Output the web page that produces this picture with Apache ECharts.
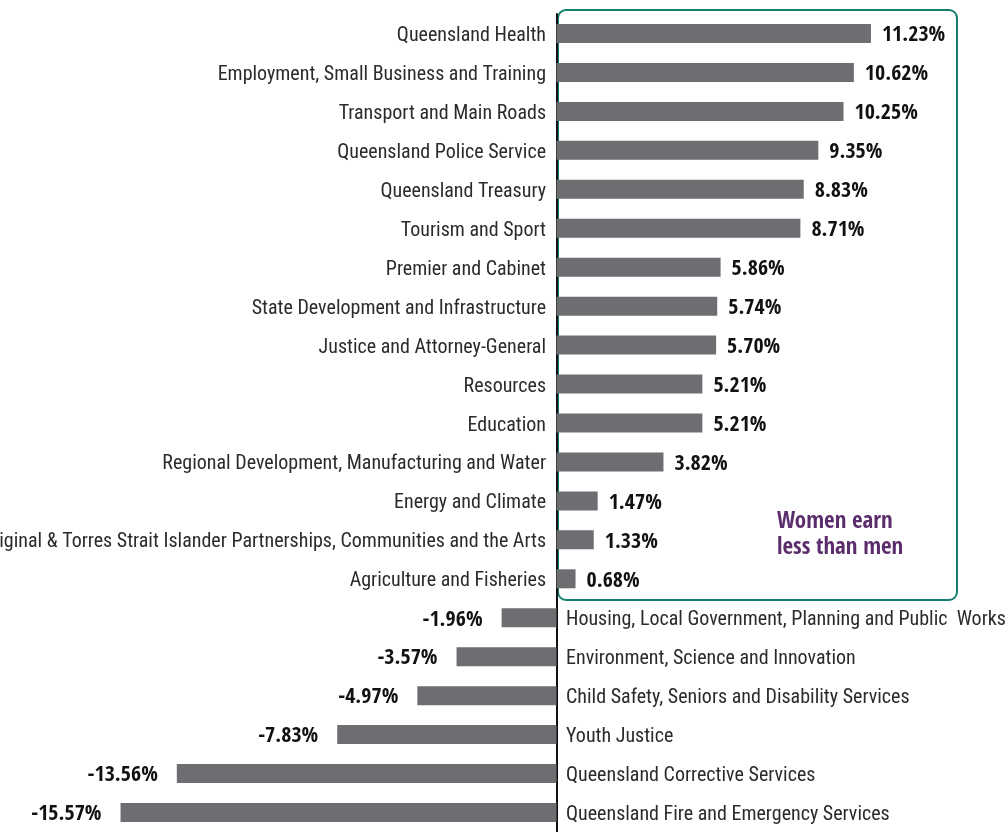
<!DOCTYPE html>
<html>
<head>
<meta charset="utf-8">
<script src="https://cdn.jsdelivr.net/npm/echarts@6/dist/echarts.min.js"></script>
<style>
  html, body { margin: 0; padding: 0; background: #fff; }
  #main { width: 1008px; height: 832px; }
</style>
</head>
<body>
<div id="main"></div>
<script>
// agencies, top to bottom
const agencies = [
  'Queensland Health',
  'Employment, Small Business and Training',
  'Transport and Main Roads',
  'Queensland Police Service',
  'Queensland Treasury',
  'Tourism and Sport',
  'Premier and Cabinet',
  'State Development and Infrastructure',
  'Justice and Attorney-General',
  'Resources',
  'Education',
  'Regional Development, Manufacturing and Water',
  'Energy and Climate',
  'Aboriginal & Torres Strait Islander Partnerships, Communities and the Arts',
  'Agriculture and Fisheries',
  'Housing, Local Government, Planning and Public  Works',
  'Environment, Science and Innovation',
  'Child Safety, Seniors and Disability Services',
  'Youth Justice',
  'Queensland Corrective Services',
  'Queensland Fire and Emergency Services'
];

// gender pay gap (%)
const payGap = [
  11.23, 10.62, 10.25, 9.35, 8.83, 8.71, 5.86, 5.74, 5.70, 5.21, 5.21,
  3.82, 1.47, 1.33, 0.68, -1.96, -3.57, -4.97, -7.83, -13.56, -15.57
];

const noteText = 'Women earn\nless than men';

const LABEL_FONT = '"Roboto Condensed", sans-serif';
const BOLD_FONT = '"Open Sans Condensed", "Roboto Condensed", sans-serif';

// agency names drawn a touch lower so they line up with the bars
const nameRich = {
  n: { fontFamily: LABEL_FONT, fontSize: 20, color: '#2b2b2b', padding: [5, 0, 0, 0] }
};

let chartDom = document.getElementById('main');
let myChart = echarts.init(chartDom);

const option = {
  animation: false,
  grid: {
    left: 0,
    right: 0,
    top: 14,
    bottom: 0,
    containLabel: false,
    outerBoundsMode: 'none'
  },
  xAxis: {
    type: 'value',
    min: -19.875,
    max: 16.125,
    show: false
  },
  yAxis: [
    {
      // names of agencies where women earn less: left of the zero line
      type: 'category',
      data: agencies,
      inverse: true,
      position: 'left',
      axisLine: {
        show: true,
        onZero: true,
        onZeroAxisIndex: 0,
        lineStyle: { color: '#111', width: 2 }
      },
      axisTick: { show: false },
      axisLabel: {
        interval: 0,
        margin: -546,
        rich: nameRich,
        formatter: (name, i) => (payGap[i] >= 0 ? '{n|' + name + '}' : '')
      }
    },
    {
      // the rest, right of the zero line
      type: 'category',
      data: agencies,
      inverse: true,
      position: 'right',
      axisLine: { show: false, onZero: false },
      axisTick: { show: false },
      axisLabel: {
        interval: 0,
        margin: -442,
        rich: nameRich,
        formatter: (name, i) => (payGap[i] < 0 ? '{n|' + name + '}' : '')
      }
    }
  ],
  graphic: [
    {
      type: 'rect',
      z: -1,
      shape: { x: 558, y: 10, width: 399, height: 590, r: 8 },
      style: { fill: 'none', stroke: '#14806f', lineWidth: 2 }
    },
    {
      type: 'text',
      left: 777,
      top: 509,
      style: {
        text: noteText,
        font: 'bold 23px ' + BOLD_FONT,
        lineHeight: 26,
        fill: '#5b2d6c'
      }
    }
  ],
  series: [
    {
      type: 'bar',
      barWidth: 19,
      itemStyle: { color: '#6d6e71' },
      data: payGap.map((v) => ({
        value: v,
        label: {
          show: true,
          position: v >= 0 ? 'right' : 'left',
          distance: v >= 0 ? 11 : 19,
          offset: [0, 2],
          formatter: v.toFixed(2) + '%',
          fontFamily: BOLD_FONT,
          fontWeight: 'bold',
          fontSize: 22,
          color: '#111'
        }
      }))
    }
  ]
};

myChart && myChart.setOption(option);
</script>
</body>
</html>
